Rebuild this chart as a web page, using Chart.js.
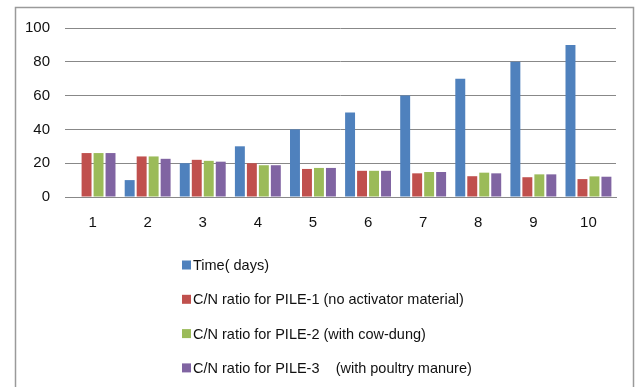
<!DOCTYPE html>
<html>
<head>
<meta charset="utf-8">
<script src="https://cdn.jsdelivr.net/npm/chart.js@4"></script>
<style>
  html, body { margin: 0; padding: 0; background: #fff; }
  #wrap { width: 637px; height: 387px; }
</style>
</head>
<body>
<div id="wrap"><canvas id="c" width="637" height="387"></canvas></div>
<script>
const categories = ['1', '2', '3', '4', '5', '6', '7', '8', '9', '10'];
const timeDays = [0, 10, 20, 30, 40, 50, 60, 70, 80, 90];
const pile1 = [26, 24, 22, 20, 16.6, 15.5, 14, 12.3, 11.7, 10.6];
const pile2 = [26, 24, 21.4, 18.8, 17.2, 15.5, 14.8, 14.4, 13.4, 12.2];
const pile3 = [26, 22.6, 20.9, 18.8, 17.2, 15.5, 14.8, 14, 13.4, 12];
const yTicks = [0, 20, 40, 60, 80, 100];

const seriesNames = [
  'Time( days)',
  'C/N ratio for PILE-1 (no activator material)',
  'C/N ratio for PILE-2 (with cow-dung)',
  'C/N ratio for PILE-3    (with poultry manure)'
];
const seriesColors = ['#4F81BD', '#C0504D', '#9BBB59', '#8064A2'];

const FONT = "'Liberation Sans', 'DejaVu Sans', sans-serif";

// Outer frame around the whole chart
const framePlugin = {
  id: 'frame',
  beforeDraw(chart) {
    const ctx = chart.ctx;
    ctx.save();
    ctx.strokeStyle = '#9a9a9a';
    ctx.lineWidth = 1.5;
    ctx.strokeRect(15.5, 7.5, 618, 420);
    ctx.restore();
  }
};

// Vertical legend listed under the plot
const stackedLegend = {
  id: 'stackedLegend',
  afterDraw(chart) {
    const ctx = chart.ctx;
    ctx.save();
    ctx.font = '14.5px ' + FONT;
    ctx.textBaseline = 'middle';
    ctx.textAlign = 'left';
    chart.data.datasets.forEach((ds, i) => {
      const cy = 265 + i * 34.3;
      ctx.fillStyle = ds.backgroundColor;
      ctx.fillRect(182, cy - 4.5, 9, 9);
      ctx.fillStyle = '#111';
      ctx.fillText(ds.label, 193, cy + 1);
    });
    ctx.restore();
  }
};

const makeSet = (label, data, color) => ({
  label, data, backgroundColor: color, borderWidth: 0
});

new Chart(document.getElementById('c'), {
  type: 'bar',
  data: {
    labels: categories,
    datasets: [
      makeSet(seriesNames[0], timeDays, seriesColors[0]),
      makeSet(seriesNames[1], pile1, seriesColors[1]),
      makeSet(seriesNames[2], pile2, seriesColors[2]),
      makeSet(seriesNames[3], pile3, seriesColors[3])
    ]
  },
  options: {
    responsive: false,
    animation: false,
    devicePixelRatio: 1,
    categoryPercentage: 0.87,
    barPercentage: 0.83,
    layout: { padding: { left: 16, top: 28, right: 21, bottom: 156 } },
    plugins: {
      legend: { display: false },
      tooltip: { enabled: false }
    },
    scales: {
      x: {
        grid: { display: false, drawTicks: false },
        border: { display: true, color: '#888', width: 1 },
        ticks: { color: '#111', font: { family: FONT, size: 15 }, padding: 17 },
        afterFit(s) { s.height = 34; }
      },
      y: {
        min: 0,
        max: 100,
        afterBuildTicks(s) { s.ticks = yTicks.map(v => ({ value: v })); },
        grid: { color: '#888', lineWidth: 1, drawTicks: false },
        border: { display: false },
        ticks: { color: '#111', font: { family: FONT, size: 15 }, padding: 15 },
        afterFit(s) { s.width = 49; }
      }
    }
  },
  plugins: [framePlugin, stackedLegend]
});
</script>
</body>
</html>
